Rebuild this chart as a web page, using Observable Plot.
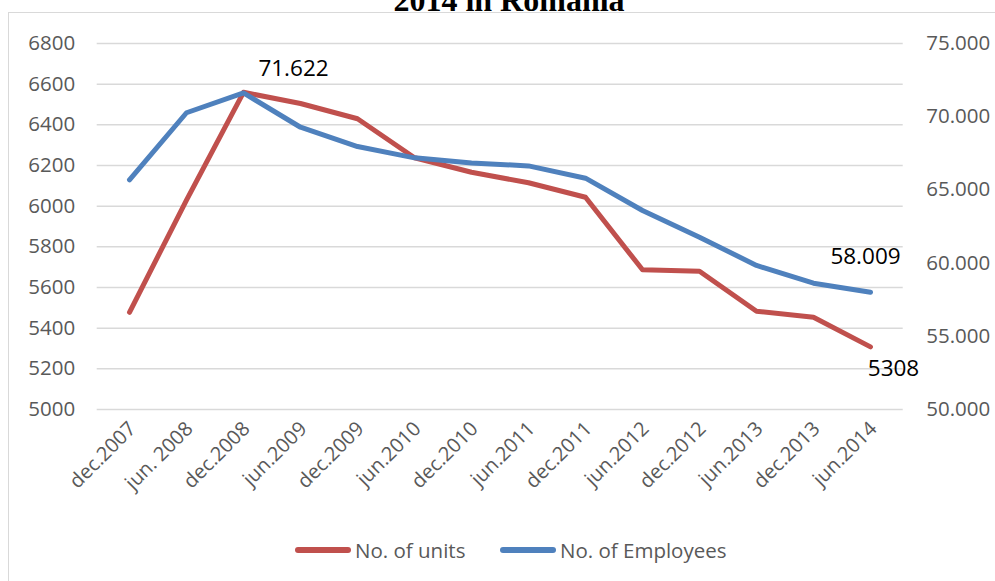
<!DOCTYPE html>
<html>
<head>
<meta charset="utf-8">
<script src="https://cdn.jsdelivr.net/npm/d3@7"></script>
<script src="https://cdn.jsdelivr.net/npm/@observablehq/plot@0.6"></script>
<style>
  html, body { margin: 0; padding: 0; background: #fff; }
  #wrap { position: relative; width: 995px; height: 581px; overflow: hidden; background: #fff; }
  #frame { position: absolute; left: 8px; top: 12px; width: 1100px; height: 700px; border: 1.5px solid #d9d9d9; box-sizing: border-box; }
  #title { position: absolute; left: 0; width: 1018px; top: -16px; text-align: center; font-family: "Liberation Serif", "Times New Roman", serif; font-weight: bold; font-size: 32px; line-height: 32px; color: #000; white-space: nowrap; }
  #chart { position: absolute; left: 0; top: 0; }
  .lg { position: absolute; top: 536px; display: flex; align-items: center; font-family: "Open Sans", sans-serif; font-size: 20.5px; color: #595959; line-height: 28px; white-space: nowrap; }
  .lg .sw { width: 56px; height: 6px; border-radius: 3px; margin-right: 4px; }
</style>
</head>
<body>
<div id="wrap">
  <div id="frame"></div>
  <div id="title">2014 in Romania</div>
  <div id="chart"></div>
  <div id="legend"></div>
</div>
<script>
// ---- data ----
const categories = ["dec.2007", "jun. 2008", "dec.2008", "jun.2009", "dec.2009", "jun.2010", "dec.2010",
                    "jun.2011", "dec.2011", "jun.2012", "dec.2012", "jun.2013", "dec.2013", "jun.2014"];
const units     = [5478, 6030, 6560, 6505, 6430, 6238, 6167, 6115, 6044, 5687, 5680, 5483, 5454, 5308];
const employees = [65690, 70270, 71622, 69280, 67960, 67190, 66840, 66640, 65800, 63590, 61770, 59840, 58630, 58009];
const leftTicks  = [5000, 5200, 5400, 5600, 5800, 6000, 6200, 6400, 6600, 6800];
const rightTicks = [50000, 55000, 60000, 65000, 70000, 75000];
const seriesNames  = ["No. of units", "No. of Employees"];
const seriesColors = ["#C0504D", "#4F81BD"];

// ---- scale mapping for secondary axis ----
const L0 = leftTicks[0], L1 = leftTicks[leftTicks.length - 1];
const R0 = rightTicks[0], R1 = rightTicks[rightTicks.length - 1];
const toLeft = v => L0 + (v - R0) * (L1 - L0) / (R1 - R0);
const fromLeft = v => R0 + (v - L0) * (R1 - R0) / (L1 - L0);
const ro = d3.formatLocale({decimal: ",", thousands: ".", grouping: [3], currency: ["", ""]});
const fmtR = ro.format(",.0f");

const rows = [];
categories.forEach((c, i) => {
  rows.push({cat: c, series: seriesNames[0], value: units[i], y: units[i], label: String(units[i])});
  rows.push({cat: c, series: seriesNames[1], value: employees[i], y: toLeft(employees[i]), label: fmtR(employees[i])});
});
const pick = (s, c) => rows.filter(r => r.series === s && r.cat === c);

const textStyle = {fontFamily: "Open Sans, sans-serif"};

const chart = Plot.plot({
  width: 995,
  height: 581,
  marginTop: 43,
  marginBottom: 172,
  marginLeft: 96.7,
  marginRight: 92.3,
  style: {fontFamily: "Open Sans, sans-serif", fontSize: "20px", color: "#595959", background: "transparent", overflow: "visible"},
  x: {type: "point", domain: categories, padding: 0.5, label: null},
  y: {domain: [L0, L1], label: null},
  color: {domain: seriesNames, range: seriesColors},
  marks: [
    Plot.ruleY(leftTicks, {stroke: "#d9d9d9", strokeWidth: 1.5}),
    Plot.axisY({anchor: "left", ticks: leftTicks, tickSize: 0, tickPadding: 22, tickFormat: d => String(d), label: null, fontSize: 20.5, fill: "#595959"}),
    Plot.axisY({anchor: "right", ticks: rightTicks.map(toLeft), tickSize: 0, tickPadding: 23, tickFormat: v => fmtR(Math.round(fromLeft(v))), label: null, fontSize: 20.5, fill: "#595959"}),
    Plot.axisX({anchor: "bottom", tickSize: 0, tickPadding: 16, tickRotate: -45, dx: 3, label: null, fontSize: 20, fill: "#595959"}),
    Plot.line(rows, {x: "cat", y: "y", z: "series", stroke: "series", strokeWidth: 5, strokeLinejoin: "round", strokeLinecap: "round"}),
    Plot.text(pick("No. of Employees", "dec.2008"), {x: "cat", y: "y", text: "label", dx: 50, dy: -24, fill: "#000", fontSize: 22.5, ...textStyle}),
    Plot.text(pick("No. of Employees", "jun.2014"), {x: "cat", y: "y", text: "label", dx: -5, dy: -35, fill: "#000", fontSize: 22.5, ...textStyle}),
    Plot.text(pick("No. of units", "jun.2014"), {x: "cat", y: "y", text: "label", dx: 23, dy: 22, fill: "#000", fontSize: 22.5, ...textStyle})
  ]
});
document.getElementById("chart").appendChild(chart);

// ---- legend ----
const legendLeft = [295, 500];
const legend = document.getElementById("legend");
seriesNames.forEach((name, i) => {
  const item = document.createElement("div");
  item.className = "lg";
  item.style.left = legendLeft[i] + "px";
  const sw = document.createElement("span");
  sw.className = "sw";
  sw.style.background = seriesColors[i];
  const tx = document.createElement("span");
  tx.textContent = name;
  item.appendChild(sw);
  item.appendChild(tx);
  legend.appendChild(item);
});
</script>
</body>
</html>
